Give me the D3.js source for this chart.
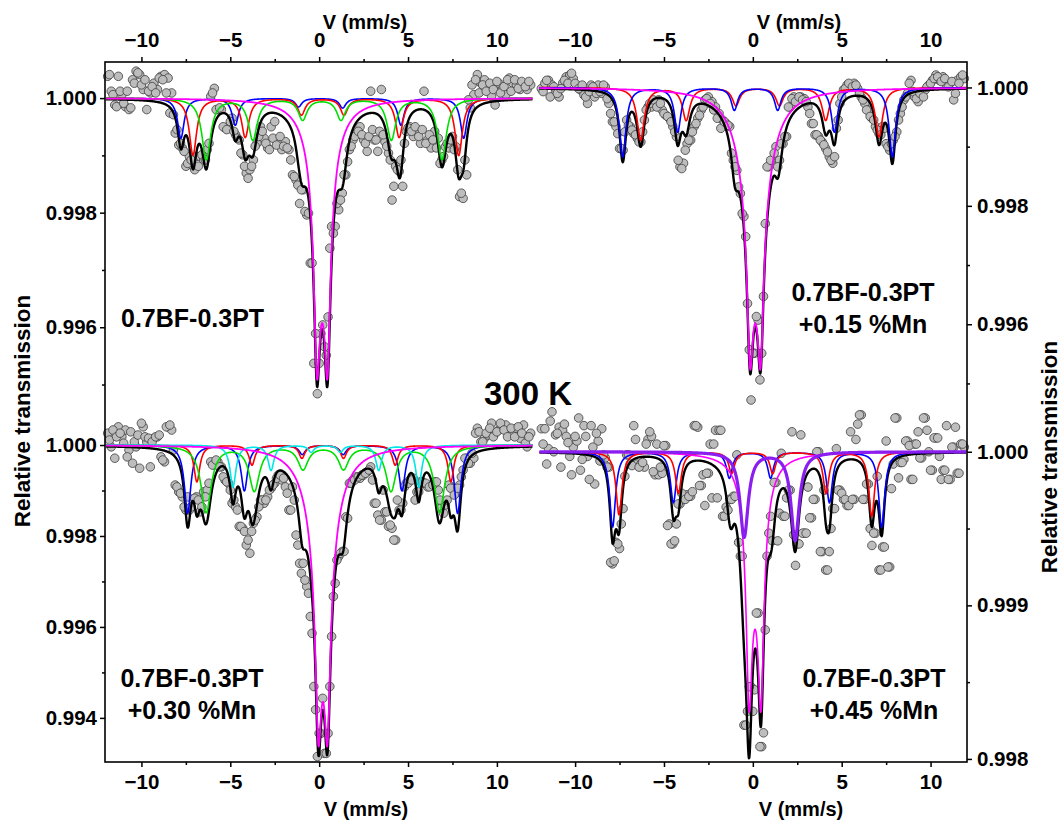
<!DOCTYPE html>
<html><head><meta charset="utf-8">
<script src="https://cdn.jsdelivr.net/npm/d3@7"></script>
<style>body{margin:0;background:#fff}svg{display:block}</style>
</head><body>
<svg id="c" width="1062" height="821"></svg>
<script>
// ---- velocity channels (mm/s); two interleaved channel sets shared by the four spectra ----
const velocityA = [-11.9,-11.7,-11.5,-11.3,-11.1,-10.9,-10.7,-10.5,-10.3,-10.1,
 -9.9,-9.7,-9.5,-9.3,-9.1,-8.9,-8.7,-8.5,-8.3,-8.1,
 -7.9,-7.7,-7.5,-7.3,-7.1,-6.9,-6.7,-6.5,-6.3,-6.1,
 -5.9,-5.7,-5.5,-5.3,-5.1,-4.9,-4.7,-4.5,-4.3,-4.1,
 -3.9,-3.7,-3.5,-3.3,-3.1,-2.9,-2.7,-2.5,-2.3,-2.1,
 -1.9,-1.7,-1.5,-1.3,-1.1,-0.9,-0.7,-0.5,-0.3,-0.1,
 0.1,0.3,0.5,0.7,0.9,1.1,1.3,1.5,1.7,1.9,
 2.1,2.3,2.5,2.7,2.9,3.1,3.3,3.5,3.7,3.9,
 4.1,4.3,4.5,4.7,4.9,5.1,5.3,5.5,5.7,5.9,
 6.1,6.3,6.5,6.7,6.9,7.1,7.3,7.5,7.7,7.9,
 8.1,8.3,8.5,8.7,8.9,9.1,9.3,9.5,9.7,9.9,
 10.1,10.3,10.5,10.7,10.9,11.1,11.3,11.5,11.7,11.9];
const velocityB = [-11.8,-11.6,-11.4,-11.2,-11.0,-10.8,-10.6,-10.4,-10.2,-10.0,
 -9.8,-9.6,-9.4,-9.2,-9.0,-8.8,-8.6,-8.4,-8.2,-8.0,
 -7.8,-7.6,-7.4,-7.2,-7.0,-6.8,-6.6,-6.4,-6.2,-6.0,
 -5.8,-5.6,-5.4,-5.2,-5.0,-4.8,-4.6,-4.4,-4.2,-4.0,
 -3.8,-3.6,-3.4,-3.2,-3.0,-2.8,-2.6,-2.4,-2.2,-2.0,
 -1.8,-1.6,-1.4,-1.2,-1.0,-0.8,-0.6,-0.4,-0.2,0.0,
 0.2,0.4,0.6,0.8,1.0,1.2,1.4,1.6,1.8,2.0,
 2.2,2.4,2.6,2.8,3.0,3.2,3.4,3.6,3.8,4.0,
 4.2,4.4,4.6,4.8,5.0,5.2,5.4,5.6,5.8,6.0,
 6.2,6.4,6.6,6.8,7.0,7.2,7.4,7.6,7.8,8.0,
 8.2,8.4,8.6,8.8,9.0,9.2,9.4,9.6,9.8,10.0,
 10.2,10.4,10.6,10.8,11.0,11.2,11.4,11.6,11.8];

// ---- measured relative transmission ----
const dataTL_A = [1.00038,1.00012,0.99988,1.00038,1.00006,0.99985,0.99980,1.00032,1.00047,1.00041,
 1.00015,0.99980,1.00009,1.00026,1.00015,1.00038,1.00041,1.00035,1.00009,0.99939,
 0.99918,0.99913,0.99881,0.99898,0.99881,0.99898,0.99898,0.99892,0.99910,1.00003,
 1.00017,0.99980,0.99980,0.99948,0.99950,0.99965,0.99936,0.99927,0.99901,0.99869,
 0.99875,0.99892,0.99921,0.99950,0.99930,0.99913,0.99950,0.99959,0.99921,0.99910,
 0.99924,0.99910,0.99866,0.99857,0.99816,0.99840,0.99796,0.99712,0.99537,0.99484,
 0.99589,0.99566,0.99618,0.99776,0.99776,0.99805,0.99834,0.99866,0.99910,0.99927,
 0.99939,0.99950,0.99927,0.99907,1.00012,0.99927,0.99907,1.00015,0.99924,0.99904,
 0.99822,0.99881,0.99872,0.99846,0.99942,0.99950,0.99933,0.99945,0.99921,1.00012,
 0.99927,0.99913,0.99942,0.99930,0.99892,0.99915,0.99913,0.99933,0.99915,0.99828,
 0.99825,0.99866,0.99983,1.00006,1.00041,1.00026,1.00032,1.00017,1.00003,0.99988,
 1.00026,1.00015,1.00006,1.00035,1.00026,1.00023,1.00015,1.00026,1.00015,1.00023];
const dataTL_B = [1.00041,1.00006,0.99985,1.00012,0.99991,1.00012,0.99983,1.00026,1.00044,1.00023,
 1.00032,1.00012,1.00020,1.00009,1.00035,1.00032,1.00009,0.99974,0.99971,0.99945,
 0.99921,0.99907,0.99886,0.99892,0.99875,0.99881,0.99901,0.99892,0.99921,1.00009,
 0.99980,0.99983,0.99950,0.99945,0.99959,0.99942,0.99930,0.99904,0.99881,0.99860,
 0.99881,0.99916,0.99933,0.99942,0.99921,0.99910,0.99930,0.99918,0.99933,0.99916,
 0.99913,0.99892,0.99863,0.99848,0.99840,0.99802,0.99799,0.99712,0.99589,0.99537,
 0.99604,0.99551,0.99738,0.99764,0.99816,0.99822,0.99866,0.99889,0.99916,0.99933,
 0.99942,0.99936,0.99921,0.99933,0.99945,0.99927,0.99942,0.99936,0.99916,0.99892,
 0.99846,0.99875,0.99892,0.99921,0.99948,0.99942,0.99950,0.99933,0.99945,0.99921,
 0.99936,0.99927,0.99913,0.99886,0.99898,0.99921,0.99927,0.99910,0.99875,0.99834,
 0.99892,0.99997,1.00023,1.00032,1.00009,1.00023,1.00012,1.00026,1.00015,1.00029,
 1.00009,1.00020,1.00032,1.00012,1.00032,1.00017,1.00029,1.00020,1.00029];
const dataTR_A = [0.99998,1.00007,1.00012,1.00004,0.99993,0.99984,1.00007,1.00018,1.00021,1.00015,
 1.00004,0.99996,0.99987,0.99973,1.00004,0.99984,1.00004,0.99990,1.00001,0.99973,
 0.99942,0.99934,0.99897,0.99894,0.99945,0.99934,0.99922,0.99914,0.99908,0.99945,
 0.99967,0.99967,0.99976,0.99979,0.99962,0.99953,0.99948,0.99934,0.99917,0.99866,
 0.99872,0.99905,0.99911,0.99934,0.99948,0.99962,0.99979,0.99984,0.99976,0.99967,
 0.99956,0.99945,0.99939,0.99934,0.99877,0.99860,0.99821,0.99782,0.99635,0.99472,
 0.99551,0.99607,0.99551,0.99770,0.99866,0.99877,0.99900,0.99877,0.99905,0.99917,
 0.99967,0.99984,0.99979,0.99984,0.99981,0.99967,0.99939,0.99920,0.99917,0.99908,
 0.99897,0.99883,0.99872,0.99931,0.99973,0.99996,1.00004,1.00004,1.00007,0.99998,
 0.99984,0.99973,0.99962,0.99948,0.99934,0.99922,0.99934,0.99905,0.99894,0.99911,
 0.99925,0.99956,0.99979,0.99990,1.00012,0.99984,0.99976,0.99987,0.99996,1.00004,
 1.00012,1.00021,1.00012,1.00018,1.00004,1.00007,0.99979,1.00012,1.00018,1.00015];
const dataTR_B = [0.99993,1.00012,0.99984,1.00001,0.99990,0.99998,1.00012,1.00007,1.00024,1.00007,
 0.99998,1.00004,0.99984,0.99993,1.00001,0.99990,0.99993,1.00004,0.99981,0.99956,
 0.99942,0.99922,0.99897,0.99925,0.99936,0.99928,0.99920,0.99908,0.99925,0.99962,
 0.99973,0.99979,0.99967,0.99973,0.99956,0.99951,0.99942,0.99925,0.99877,0.99863,
 0.99894,0.99911,0.99925,0.99939,0.99953,0.99967,0.99981,0.99973,0.99962,0.99948,
 0.99931,0.99942,0.99936,0.99889,0.99866,0.99832,0.99787,0.99748,0.99557,0.99551,
 0.99613,0.99506,0.99647,0.99866,0.99877,0.99889,0.99866,0.99905,0.99917,0.99967,
 0.99981,0.99976,0.99984,0.99979,0.99976,0.99956,0.99939,0.99920,0.99911,0.99903,
 0.99891,0.99877,0.99883,0.99945,0.99984,0.99998,1.00007,1.00001,1.00004,0.99990,
 0.99979,0.99962,0.99951,0.99945,0.99928,0.99920,0.99931,0.99900,0.99905,0.99917,
 0.99945,0.99967,0.99984,1.00007,0.99993,0.99981,0.99990,0.99984,1.00001,1.00007,
 1.00015,1.00018,1.00010,1.00015,1.00001,1.00010,0.99990,1.00007,1.00021];
const dataBL_A = [1.00026,0.99996,0.99971,1.00040,1.00018,1.00033,0.99989,0.99960,0.99996,0.99949,
 1.00040,1.00007,0.99952,1.00015,1.00018,0.99974,0.99963,1.00040,1.00033,0.99912,
 0.99897,0.99886,0.99857,0.99857,0.99879,0.99886,0.99853,0.99897,0.99901,0.99963,
 0.99956,0.99963,0.99952,0.99923,0.99916,0.99872,0.99864,0.99821,0.99817,0.99780,
 0.99762,0.99828,0.99842,0.99879,0.99872,0.99886,0.99905,0.99916,0.99934,0.99923,
 0.99908,0.99857,0.99908,0.99802,0.99740,0.99740,0.99689,0.99623,0.99469,0.99315,
 0.99366,0.99322,0.99366,0.99579,0.99696,0.99755,0.99766,0.99842,0.99916,0.99923,
 0.99930,0.99927,0.99934,0.99941,0.99952,0.99872,0.99846,0.99835,0.99853,0.99821,
 0.99817,0.99791,0.99857,0.99872,0.99916,0.99923,0.99927,0.99897,0.99919,0.99916,
 0.99908,0.99912,0.99919,0.99901,0.99864,0.99868,0.99912,0.99905,0.99894,0.99912,
 0.99945,0.99971,0.99960,0.99971,1.00037,1.00007,1.00015,1.00022,1.00048,1.00026,
 1.00033,1.00040,1.00044,1.00029,1.00026,1.00037,1.00015,1.00044,0.99996,1.00026];
const dataBL_B = [1.00011,1.00033,1.00018,1.00026,1.00004,0.99974,1.00029,1.00007,1.00022,1.00048,
 1.00018,1.00015,1.00007,1.00018,1.00022,0.99967,1.00040,1.00044,0.99989,0.99908,
 0.99894,0.99864,0.99886,0.99864,0.99883,0.99879,0.99864,0.99886,0.99916,0.99956,
 0.99967,0.99952,0.99930,0.99919,0.99901,0.99879,0.99857,0.99821,0.99810,0.99791,
 0.99810,0.99835,0.99864,0.99879,0.99879,0.99901,0.99912,0.99927,0.99934,0.99927,
 0.99894,0.99857,0.99879,0.99780,0.99718,0.99703,0.99674,0.99586,0.99418,0.99366,
 0.99443,0.99322,0.99469,0.99667,0.99747,0.99762,0.99766,0.99839,0.99916,0.99923,
 0.99930,0.99934,0.99938,0.99945,0.99923,0.99872,0.99835,0.99901,0.99853,0.99824,
 0.99791,0.99879,0.99857,0.99908,0.99916,0.99923,0.99879,0.99897,0.99919,0.99916,
 0.99908,0.99912,0.99919,0.99879,0.99850,0.99879,0.99905,0.99890,0.99905,0.99930,
 0.99971,0.99960,0.99982,1.00026,1.00029,1.00007,1.00026,1.00037,1.00018,1.00029,
 1.00048,1.00033,1.00018,1.00037,1.00018,1.00040,1.00026,1.00004,1.00018];
const dataBR_A = [1.00015,1.00015,1.00002,1.00026,1.00011,1.00016,1.00014,1.00010,0.99997,1.00003,
 1.00007,0.99988,1.00017,0.99997,1.00017,0.99979,1.00007,1.00015,0.99996,0.99990,
 0.99927,0.99941,0.99937,0.99963,0.99998,0.99992,1.00017,0.99992,0.99992,0.99990,
 1.00008,1.00010,0.99985,0.99985,0.99986,1.00004,0.99953,0.99940,0.99953,0.99966,
 0.99969,0.99972,0.99971,1.00017,1.00016,0.99978,0.99965,0.99986,0.99970,1.00014,
 1.00014,0.99958,0.99964,0.99969,0.99971,0.99998,0.99932,0.99822,0.99831,0.99847,
 0.99845,0.99895,0.99808,0.99884,0.99947,0.99942,0.99980,0.99960,0.99958,0.99970,
 0.99975,0.99946,0.99940,1.00011,0.99947,0.99977,0.99957,0.99969,1.00000,0.99935,
 0.99923,0.99935,0.99963,1.00002,0.99975,0.99969,0.99965,1.00013,0.99969,1.00018,
 1.00024,0.99969,0.99979,0.99939,0.99947,0.99923,0.99938,1.00007,0.99925,0.99992,
 1.00022,0.99993,0.99995,1.00007,0.99982,1.00005,1.00013,0.99996,1.00022,1.00000,
 0.99988,1.00009,0.99997,0.99988,1.00017,0.99982,1.00003,0.99986,1.00005,1.00003];
const dataBR_B = [1.00005,0.99992,1.00020,1.00000,1.00012,0.99990,1.00018,1.00006,0.99985,1.00010,
 1.00022,0.99995,1.00010,0.99982,1.00003,1.00012,0.99994,0.99998,0.99990,0.99928,
 0.99929,0.99940,0.99953,0.99984,0.99998,0.99991,1.00008,0.99990,0.99993,1.00005,
 1.00013,0.99987,1.00005,0.99990,1.00004,0.99952,0.99940,0.99942,0.99966,0.99973,
 0.99969,0.99971,0.99974,1.00017,0.99978,0.99985,0.99986,1.00005,1.00005,0.99970,
 1.00014,0.99958,0.99962,0.99969,0.99971,0.99941,0.99932,0.99822,0.99847,0.99831,
 0.99895,0.99808,0.99817,0.99932,0.99958,0.99980,0.99942,0.99999,0.99958,0.99975,
 1.00013,0.99926,0.99940,0.99947,0.99947,0.99957,0.99969,1.00000,0.99935,0.99975,
 0.99923,0.99950,0.99963,0.99975,0.99973,0.99969,0.99965,0.99969,1.00008,1.00024,
 0.99969,0.99979,0.99950,0.99947,0.99984,0.99923,0.99938,0.99925,0.99976,1.00022,
 0.99983,0.99993,1.00007,1.00004,0.99982,1.00005,0.99996,1.00022,1.00014,0.99988,
 1.00009,1.00009,0.99982,0.99988,0.99982,1.00003,1.00016,0.99986,1.00005];

// ---- fitted sub-spectra: each line = [centre mm/s, depth (x0.001), half-width mm/s] ----
const tlBlue = [[-7.78,0.70,0.22],[-4.72,0.47,0.22],[-1.16,0.15,0.22],[1.32,0.17,0.22],[4.60,0.47,0.22],[8.13,0.70,0.22]];
const tlRed = [[-7.10,0.99,0.25],[-4.16,0.68,0.25],[-1.00,0.29,0.25],[1.40,0.29,0.25],[4.50,0.68,0.25],[7.85,1.00,0.25]];
const tlGreen = [[-6.35,1.07,0.30],[-3.73,0.72,0.30],[-0.93,0.37,0.30],[1.23,0.37,0.30],[4.06,0.72,0.30],[6.91,1.07,0.30]];
const tlMagenta = [[-0.13,2.79,0.20],[0.47,2.79,0.20],[0.17,2.21,0.65]];

const trBlue = [[-7.32,1.17,0.22],[-4.23,0.75,0.22],[-1.04,0.38,0.22],[1.40,0.38,0.22],[4.59,0.75,0.22],[7.85,1.17,0.22]];
const trRed = [[-6.31,0.89,0.25],[-3.75,0.55,0.25],[-0.95,0.30,0.25],[1.50,0.30,0.25],[4.10,0.55,0.25],[7.10,0.83,0.25]];
const trMagenta = [[-0.16,2.23,0.20],[0.44,2.23,0.20],[0.14,2.61,0.80]];

const blBlue = [[-7.40,1.50,0.22],[-4.21,1.00,0.22],[-0.95,0.20,0.22],[1.35,0.20,0.22],[4.66,1.00,0.22],[7.79,1.50,0.22]];
const blRed = [[-6.88,0.81,0.20],[-3.78,0.44,0.20],[-0.97,0.29,0.20],[1.37,0.29,0.20],[4.28,0.44,0.20],[7.41,0.81,0.20]];
const blGreen = [[-6.36,1.47,0.35],[-3.65,0.99,0.35],[-0.91,0.51,0.35],[1.37,0.51,0.35],[4.04,0.99,0.35],[6.77,1.47,0.35]];
const blCyan = [[-4.85,0.92,0.20],[-2.71,0.55,0.20],[-0.45,0.15,0.20],[1.19,0.15,0.20],[3.35,0.55,0.20],[5.60,0.92,0.20]];
const blMagenta = [[-0.05,3.34,0.20],[0.47,3.34,0.20],[0.21,3.16,0.75]];

const brBlue = [[-7.89,0.49,0.20],[-4.47,0.33,0.20],[-1.32,0.17,0.20],[1.00,0.17,0.20],[4.31,0.33,0.20],[7.25,0.49,0.20]];
const brRed = [[-7.53,0.41,0.20],[-4.19,0.27,0.20],[-1.19,0.14,0.20],[1.12,0.14,0.20],[4.12,0.27,0.20],[6.69,0.42,0.20]];
const brViolet = [[-0.49,0.553,0.28],[2.38,0.575,0.28]];
const brMagenta = [[-0.21,1.19,0.20],[0.46,1.19,0.20],[0.125,0.53,0.60]];

// ---- axis ticks ----
const xMajor = [-10,-5,0,5,10];
const xMinor = [-7.5,-2.5,2.5,7.5];
const yMajorTL = [1.000,0.998,0.996], yMinorTL = [0.999,0.997,0.995];
const yMajorTR = [1.000,0.998,0.996], yMinorTR = [0.999,0.997,0.995];
const yMajorBL = [1.000,0.998,0.996,0.994], yMinorBL = [0.999,0.997,0.995];
const yMajorBR = [1.000,0.999,0.998], yMinorBR = [0.9995,0.9985];

const sampleTL = ["0.7BF-0.3PT"], sampleTR = ["0.7BF-0.3PT","+0.15 %Mn"];
const sampleBL = ["0.7BF-0.3PT","+0.30 %Mn"], sampleBR = ["0.7BF-0.3PT","+0.45 %Mn"];

// ---- layout ----
const L = 105, R = 967, MID = 536, T = 62, B = 762, YM = 400;
const FONT = "'Liberation Sans', Arial, sans-serif";
const TICKFS = 20.5;

const pts = (a, b) => velocityA.map((v, i) => [v, a[i]]).concat(velocityB.map((v, i) => [v, b[i]]));

const panels = [
  {data:pts(dataTL_A, dataTL_B), xr:[L,MID], xd:[-12.05,12.2], yr:[YM,T], yd:[0.99473,1.00063], side:'left', xs:'top',
   major:yMajorTL, minor:yMinorTL,
   comps:[{c:'#0000ff',w:1.6,l:tlBlue},{c:'#ff0000',w:1.6,l:tlRed},{c:'#00e000',w:1.6,l:tlGreen},{c:'#ff00ff',w:1.8,l:tlMagenta}],
   label:sampleTL, lx:121, ly:327, anchor:'start'},
  {data:pts(dataTR_A, dataTR_B), xr:[MID,R], xd:[-12.2,12.05], yr:[YM,T], yd:[0.99472,1.00043], side:'right', xs:'top',
   major:yMajorTR, minor:yMinorTR,
   comps:[{c:'#ff0000',w:1.6,l:trRed},{c:'#0000ff',w:1.6,l:trBlue},{c:'#ff00ff',w:1.8,l:trMagenta}],
   label:sampleTR, lx:863, ly:301, anchor:'middle'},
  {data:pts(dataBL_A, dataBL_B), xr:[L,MID], xd:[-12.05,12.2], yr:[B,YM], yd:[0.99303,1.00099], side:'left', xs:'bottom',
   major:yMajorBL, minor:yMinorBL,
   comps:[{c:'#0000ff',w:1.6,l:blBlue},{c:'#ff0000',w:1.6,l:blRed},{c:'#00e000',w:1.6,l:blGreen},{c:'#00e5e5',w:1.6,l:blCyan},{c:'#ff00ff',w:1.8,l:blMagenta}],
   label:sampleBL, lx:192, ly:687, anchor:'middle'},
  {data:pts(dataBR_A, dataBR_B), xr:[MID,R], xd:[-12.2,12.05], yr:[B,YM], yd:[0.99798,1.000337], side:'right', xs:'bottom',
   major:yMajorBR, minor:yMinorBR,
   comps:[{c:'#0000ff',w:1.6,l:brBlue},{c:'#ff0000',w:1.6,l:brRed},{c:'#ff00ff',w:1.6,l:brMagenta},{c:'#8a1ef0',w:3.2,l:brViolet}],
   label:sampleBR, lx:874, ly:687, anchor:'middle'}
];

const svg = d3.select('#c');
const fitGrid = d3.range(-12, 12.0001, 0.02);
const model = lines => fitGrid.map(v => [v, 1 - lines.reduce((s, [c, dep, w]) => s + dep * 1e-3 / (1 + ((v - c) / w) ** 2), 0)]);

panels.forEach(p => {
  const x = d3.scaleLinear().domain(p.xd).range(p.xr);
  const y = d3.scaleLinear().domain(p.yd).range(p.yr);
  const g = svg.append('g');
  const line = d3.line().x(d => x(d[0])).y(d => y(d[1]));

  g.selectAll('circle').data(p.data).join('circle')
    .attr('cx', d => x(d[0])).attr('cy', d => y(d[1])).attr('r', 4.3)
    .attr('fill', '#bdbdbd').attr('stroke', '#3c3c3c').attr('stroke-width', 0.8);

  const all = p.comps.flatMap(c => c.l);
  g.append('path').attr('d', line(model(all))).attr('fill', 'none')
    .attr('stroke', '#000').attr('stroke-width', 2.4).attr('stroke-linejoin', 'round');
  p.comps.forEach(c => {
    g.append('path').attr('d', line(model(c.l))).attr('fill', 'none')
      .attr('stroke', c.c).attr('stroke-width', c.w).attr('stroke-linejoin', 'round');
  });

  // y axis
  const yAx = p.side === 'left' ? d3.axisLeft(y) : d3.axisRight(y);
  const yAxM = p.side === 'left' ? d3.axisLeft(y) : d3.axisRight(y);
  const xpos = p.side === 'left' ? L : R;
  svg.append('g').attr('transform', `translate(${xpos},0)`)
    .call(yAx.tickValues(p.major).tickSize(5).tickPadding(p.side === 'left' ? 3 : 5).tickFormat(d3.format('.3f')));
  svg.append('g').attr('transform', `translate(${xpos},0)`)
    .call(yAxM.tickValues(p.minor).tickSize(3).tickFormat(''));
  // x axis
  const xAx = p.xs === 'top' ? d3.axisTop(x) : d3.axisBottom(x);
  const xAxM = p.xs === 'top' ? d3.axisTop(x) : d3.axisBottom(x);
  const ypos = p.xs === 'top' ? T : B;
  svg.append('g').attr('transform', `translate(0,${ypos})`)
    .call(xAx.tickValues(xMajor).tickSize(5).tickPadding(p.xs === 'top' ? 10 : 7.5).tickFormat(d3.format('d')));
  svg.append('g').attr('transform', `translate(0,${ypos})`)
    .call(xAxM.tickValues(xMinor).tickSize(3).tickFormat(''));

  // sample label
  const t = svg.append('text').attr('x', p.lx).attr('y', p.ly).attr('text-anchor', p.anchor)
    .attr('font-family', FONT).attr('font-weight', 'bold').attr('font-size', 25).attr('fill', '#000');
  p.label.forEach((s, i) => t.append('tspan').attr('x', p.lx).attr('dy', i === 0 ? 0 : 32).text(s));
});

svg.selectAll('.domain').remove();
svg.selectAll('.tick line').attr('stroke', '#000').attr('stroke-width', 1.5);
svg.selectAll('.tick text').attr('font-family', FONT).attr('font-weight', 'bold').attr('font-size', TICKFS).attr('fill', '#000');

// frame
svg.append('rect').attr('x', L).attr('y', T).attr('width', R - L).attr('height', B - T)
  .attr('fill', 'none').attr('stroke', '#000').attr('stroke-width', 1.6);

// titles
const title = (x, yy, s) => svg.append('text').attr('x', x).attr('y', yy)
  .attr('font-family', FONT).attr('font-weight', 'bold').attr('font-size', 20)
  .attr('text-anchor', 'middle').attr('fill', '#000').text(s);
title(365, 29, 'V (mm/s)');
title(799, 29, 'V (mm/s)');
title(366, 816, 'V (mm/s)');
title(801, 816, 'V (mm/s)');
const ylab = (x, yy) => svg.append('text').attr('transform', `translate(${x},${yy}) rotate(-90)`)
  .attr('font-family', FONT).attr('font-weight', 'bold').attr('font-size', 22.5).attr('text-anchor', 'middle').attr('fill', '#000')
  .text('Relative transmission');
ylab(30, 411);
ylab(1057, 457);

svg.append('text').attr('x', 528).attr('y', 405).attr('text-anchor', 'middle')
  .attr('font-family', FONT).attr('font-weight', 'bold').attr('font-size', 33).text('300 K');
</script>
</body></html>
